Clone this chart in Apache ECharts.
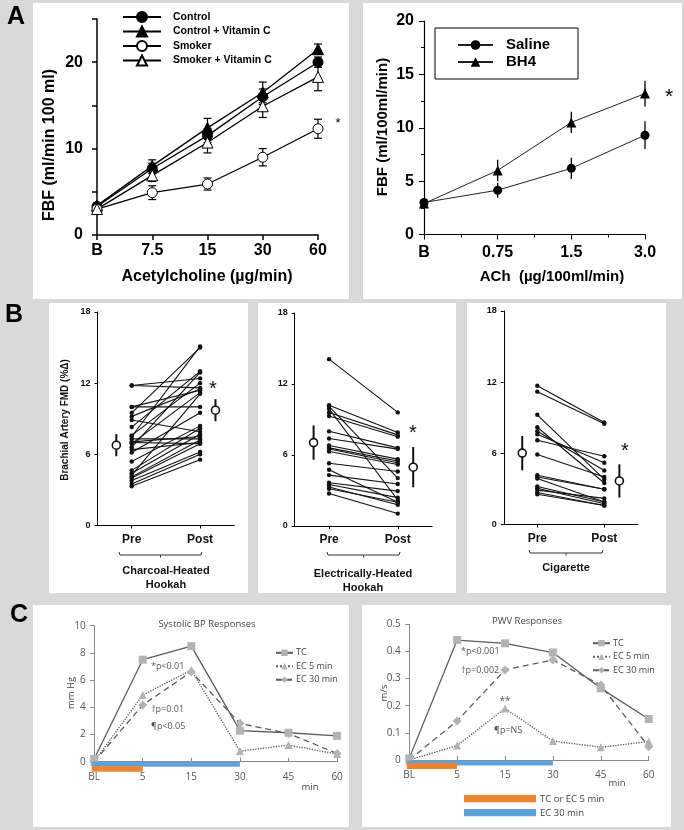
<!DOCTYPE html>
<html><head><meta charset="utf-8">
<script src="https://cdn.jsdelivr.net/npm/echarts@6/dist/echarts.min.js"></script>
<style>html,body{margin:0;padding:0;background:#d9d9d9}#c{width:684px;height:830px}</style>
</head><body><div id="c"></div>
<script>
// ---------- Panel A (left): FBF vs acetylcholine ----------
const aLeftCats = ['B', '7.5', '15', '30', '60'];
const control = [3.3, 7.7, 11.5, 16.0, 20.0];
const controlSem = [0.3, 0.6, 0.8, 0.9, 0.6];
const controlVitC = [3.4, 8.0, 12.4, 16.5, 21.5];
const controlVitCSem = [0.3, 0.7, 1.1, 1.2, 0.6];
const smoker = [3.0, 4.9, 5.9, 9.0, 12.3];
const smokerSem = [0.3, 0.8, 0.7, 1.0, 1.1];
const smokerVitC = [3.0, 6.9, 10.7, 14.9, 18.3];
const smokerVitCSem = [0.3, 0.7, 1.2, 1.3, 1.6];

// ---------- Panel A (right): FBF vs ACh ----------
const aRightCats = ['B', '0.75', '1.5', '3.0'];
const saline = [3.0, 4.15, 6.2, 9.3];
const salineSem = [0.1, 0.7, 1.0, 1.3];
const bh4 = [2.9, 6.0, 10.5, 13.2];
const bh4Sem = [0.1, 1.0, 1.0, 1.2];

// ---------- Panel B: brachial artery FMD, pre vs post ----------
const bCats = ['Pre', 'Post'];
const charcoalPre  = [11.8, 11.8, 10.0, 10.0, 9.5, 9.2, 8.9, 8.3, 7.6, 7.5, 7.3, 7.05, 6.9, 6.6, 6.4, 6.15, 5.4, 4.65, 4.4, 4.25, 4.1, 4.0, 3.8, 3.5, 3.3, 7.0];
const charcoalPost = [12.4, 11.6, 11.4, 10.0, 15.0, 11.5, 7.9, 13.0, 12.0, 15.1, 7.3, 7.5, 11.2, 12.9, 7.0, 9.5, 8.4, 8.2, 7.7, 11.1, 7.2, 6.9, 6.2, 6.0, 5.55, 6.9];
const charcoalMean = [6.77, 9.72];
const charcoalSd = [0.93, 0.93];

const electricPre  = [14.1, 10.2, 10.1, 9.9, 9.6, 9.3, 8.0, 7.4, 6.8, 6.6, 6.5, 6.3, 5.3, 4.75, 4.3, 3.65, 3.5, 3.3, 3.15, 2.75];
const electricPost = [9.6, 7.9, 4.05, 2.2, 7.7, 7.55, 6.6, 6.5, 5.65, 5.5, 5.35, 5.2, 4.6, 2.0, 3.55, 2.95, 2.4, 1.8, 2.0, 1.05];
const electricMean = [7.05, 4.97];
const electricSd = [1.45, 1.7];

const cigPre  = [11.7, 11.2, 9.25, 8.2, 7.87, 7.6, 7.1, 5.9, 4.15, 4.0, 3.87, 3.2, 3.05, 2.9, 2.7, 2.55];
const cigPost = [8.6, 8.5, 3.8, 3.5, 4.55, 5.2, 5.75, 4.0, 2.97, 2.97, 1.9, 1.9, 1.75, 2.2, 1.6, 1.6];
const cigMean = [6.02, 3.67];
const cigSd = [1.45, 1.4];

// ---------- Panel C: BP and PWV responses ----------
const cCats = ['BL', '5', '15', '30', '45', '60'];
const bpTC   = [0.2, 7.5, 8.5, 2.28, 2.13, 1.9];
const bpEC5  = [0.0, 4.9, 6.74, 0.78, 1.22, 0.56];
const bpEC30 = [0.0, 4.17, 6.6, 2.82, 2.08, 0.6];
const pwvTC   = [0.006, 0.442, 0.43, 0.396, 0.264, 0.151];
const pwvEC5  = [0.0, 0.053, 0.19, 0.07, 0.047, 0.068];
const pwvEC30 = [0.0, 0.144, 0.332, 0.369, 0.276, 0.049];
// exposure periods, as category index [start, end]
const exposureTC = [0, 1];   // BL -> 5 min
const exposureEC30 = [0, 3]; // BL -> 30 min

// ================= build =================
const FA = '"Liberation Sans", Arial, sans-serif';
const FC = '"Open Sans", "Noto Sans", sans-serif';
const BLACK = '#000';

function idx(arr) { return arr.map((v, i) => [i, v]); }

function errSeries(ax, xs, ys, errs, cap, lw) {
  return {
    type: 'custom', xAxisIndex: ax, yAxisIndex: ax, z: 1, silent: true,
    data: ys.map((y, i) => [xs[i], y, errs[i]]),
    renderItem(params, api) {
      const x = api.value(0), y = api.value(1), e = api.value(2);
      const t = api.coord([x, y + e]), b = api.coord([x, y - e]);
      const ch = [{ type: 'line', shape: { x1: t[0], y1: t[1], x2: b[0], y2: b[1] }, style: { stroke: BLACK, lineWidth: lw } }];
      if (cap) {
        ch.push({ type: 'line', shape: { x1: t[0] - cap, y1: t[1], x2: t[0] + cap, y2: t[1] }, style: { stroke: BLACK, lineWidth: lw } });
        ch.push({ type: 'line', shape: { x1: b[0] - cap, y1: b[1], x2: b[0] + cap, y2: b[1] }, style: { stroke: BLACK, lineWidth: lw } });
      }
      return { type: 'group', children: ch };
    }
  };
}

function pairSeries(ax, pre, post) {
  return {
    type: 'custom', xAxisIndex: ax, yAxisIndex: ax, silent: true, z: 3,
    data: pre.map((p, i) => [p, post[i]]),
    encode: { y: [0, 1] },
    renderItem(params, api) {
      const a = api.coord([1, api.value(0)]), b = api.coord([3, api.value(1)]);
      return { type: 'group', children: [
        { type: 'line', shape: { x1: a[0], y1: a[1], x2: b[0], y2: b[1] }, style: { stroke: '#111', lineWidth: 1.1 } },
        { type: 'circle', shape: { cx: a[0], cy: a[1], r: 2.2 }, style: { fill: '#111' } },
        { type: 'circle', shape: { cx: b[0], cy: b[1], r: 2.2 }, style: { fill: '#111' } }
      ] };
    }
  };
}

function meanSeries(ax, mean, sd) {
  const xs = [0.55, 3.45];
  return {
    type: 'custom', xAxisIndex: ax, yAxisIndex: ax, silent: true, z: 4,
    data: mean.map((m, i) => [xs[i], m, sd[i]]),
    renderItem(params, api) {
      const x = api.value(0), y = api.value(1), e = api.value(2);
      const t = api.coord([x, y + e]), b = api.coord([x, y - e]), c = api.coord([x, y]);
      return { type: 'group', children: [
        { type: 'line', shape: { x1: t[0], y1: t[1], x2: b[0], y2: b[1] }, style: { stroke: '#111', lineWidth: 2 } },
        { type: 'circle', shape: { cx: c[0], cy: c[1], r: 4 }, style: { fill: '#fff', stroke: '#111', lineWidth: 1.6 } }
      ] };
    }
  };
}

function barSeries(ax, range, color, y0, h) {
  return {
    type: 'custom', xAxisIndex: ax, yAxisIndex: ax, silent: true, z: 5,
    data: [[range[0], range[1]]],
    encode: { x: [0, 1] },
    renderItem(params, api) {
      const cs = params.coordSys;
      const e = api.coord([api.value(1), 0]);
      return { type: 'rect', shape: { x: cs.x, y: e[1] + y0, width: e[0] - cs.x, height: h }, style: { fill: color } };
    }
  };
}

const grids = [
  { left: 97, top: 19, width: 221, height: 216 },        // 0 A-left
  { left: 424, top: 21, width: 221, height: 213.5 },     // 1 A-right
  { left: 97.5, top: 312, width: 136.8, height: 213.5 }, // 2 B1
  { left: 294.7, top: 313, width: 137.4, height: 213 },  // 3 B2
  { left: 503.8, top: 311, width: 134, height: 213.5 },  // 4 B3
  { left: 91.7, top: 625.7, width: 245.4, height: 136 }, // 5 C1
  { left: 406.8, top: 624.3, width: 241.9, height: 135.7 } // 6 C2
];

const blackAxis = { lineStyle: { color: BLACK, width: 1.5 } };
const xAxes = [
  { gridIndex: 0, type: 'category', data: aLeftCats, boundaryGap: false,
    axisLine: blackAxis, axisTick: { length: 5, lineStyle: { color: BLACK, width: 1.5 } },
    axisLabel: { fontFamily: FA, fontWeight: 'bold', fontSize: 16, color: BLACK, margin: 8 } },
  { gridIndex: 1, type: 'value', min: 0, max: 3, interval: 1,
    axisLine: { lineStyle: { color: BLACK, width: 1.2 } }, axisTick: { length: 5, lineStyle: { color: BLACK } },
    minorTick: { show: true, splitNumber: 2, length: 3, lineStyle: { color: BLACK } },
    splitLine: { show: false }, minorSplitLine: { show: false },
    axisLabel: { fontFamily: FA, fontWeight: 'bold', fontSize: 16, color: BLACK, margin: 10, formatter: v => aRightCats[v] } }
];
[2, 3, 4].forEach(g => xAxes.push({
  gridIndex: g, type: 'value', min: 0, max: 4, splitLine: { show: false },
  axisLine: { lineStyle: { color: BLACK, width: 1 } },
  axisTick: { customValues: [1, 3], length: 3, lineStyle: { color: BLACK } },
  axisLabel: { customValues: [1, 3], formatter: v => bCats[v === 1 ? 0 : 1], fontFamily: FA, fontWeight: 'bold', fontSize: 12, color: '#111', margin: 8 }
}));
[5, 6].forEach(g => xAxes.push({
  gridIndex: g, type: 'value', min: -0.05, max: 5, splitLine: { show: false },
  axisLine: { lineStyle: { color: '#8a8a8a', width: 1 } },
  axisTick: { customValues: [0, 1, 2, 3, 4, 5], inside: true, length: 4, lineStyle: { color: '#8a8a8a' } },
  axisLabel: { customValues: [0, 1, 2, 3, 4, 5], formatter: v => cCats[Math.round(v)], fontFamily: FC, fontSize: 10, color: '#555', margin: 10 }
}));

const yAxes = [
  { gridIndex: 0, type: 'value', min: 0, max: 25, interval: 5, splitLine: { show: false },
    axisLine: { show: true, lineStyle: { color: BLACK, width: 1.5 } }, axisTick: { show: true, length: 5, lineStyle: { color: BLACK, width: 1.5 } },
    axisLabel: { fontFamily: FA, fontWeight: 'bold', fontSize: 16, color: BLACK, margin: 14, formatter: v => (v % 10 === 0 ? String(v) : '') } },
  { gridIndex: 1, type: 'value', min: 0, max: 20, interval: 5, splitLine: { show: false },
    axisLine: { show: true, lineStyle: { color: BLACK, width: 1.2 } }, axisTick: { show: true, length: 5, lineStyle: { color: BLACK } },
    minorTick: { show: true, splitNumber: 2, length: 3, lineStyle: { color: BLACK } }, minorSplitLine: { show: false },
    axisLabel: { fontFamily: FA, fontWeight: 'bold', fontSize: 16, color: BLACK, margin: 10 } }
];
[2, 3, 4].forEach(g => yAxes.push({
  gridIndex: g, type: 'value', min: 0, max: 18, interval: 6, splitLine: { show: false },
  axisLine: { show: true, lineStyle: { color: BLACK, width: 1 } }, axisTick: { show: true, length: 3, lineStyle: { color: BLACK } },
  axisLabel: { fontFamily: FA, fontWeight: 'bold', fontSize: 9, color: '#111', margin: 7 }
}));
yAxes.push({ gridIndex: 5, type: 'value', min: 0, max: 10, interval: 2, splitLine: { show: false },
  axisLine: { show: true, lineStyle: { color: '#8a8a8a' } }, axisTick: { show: true, length: 4, lineStyle: { color: '#8a8a8a' } },
  axisLabel: { fontFamily: FC, fontSize: 10, color: '#555', margin: 6 } });
yAxes.push({ gridIndex: 6, type: 'value', min: 0, max: 0.5, interval: 0.1, splitLine: { show: false },
  axisLine: { show: true, lineStyle: { color: '#8a8a8a' } }, axisTick: { show: true, length: 4, lineStyle: { color: '#8a8a8a' } },
  axisLabel: { fontFamily: FC, fontSize: 10, color: '#555', margin: 6, formatter: v => (v === 0 ? '0' : v.toFixed(1)) } });

function aLine(name, data, symbol, size, fill) {
  return { name, type: 'line', xAxisIndex: 0, yAxisIndex: 0, data, symbol, symbolSize: size, z: 3,
    lineStyle: { color: BLACK, width: 1.3 }, itemStyle: { color: fill, borderColor: BLACK, borderWidth: 1 } };
}
function arLine(name, data, symbol, size) {
  return { name, type: 'line', xAxisIndex: 1, yAxisIndex: 1, data: idx(data), symbol, symbolSize: size, z: 3,
    lineStyle: { color: '#222', width: 1 }, itemStyle: { color: BLACK } };
}
function cLine(ax, name, data, symbol, size, type) {
  return { name, type: 'line', xAxisIndex: ax, yAxisIndex: ax, data: idx(data), symbol, symbolSize: size, z: 3,
    lineStyle: { color: '#5c5c5c', width: 1.3, type }, itemStyle: { color: '#b3b3b3' } };
}

const xi5 = [0, 1, 2, 3, 4], xi4 = [0, 1, 2, 3];
const series = [
  errSeries(0, xi5, control, controlSem, 4, 1.2),
  errSeries(0, xi5, controlVitC, controlVitCSem, 4, 1.2),
  errSeries(0, xi5, smoker, smokerSem, 4, 1.2),
  errSeries(0, xi5, smokerVitC, smokerVitCSem, 4, 1.2),
  aLine('Control', control, 'circle', 10, BLACK),
  aLine('Control + Vitamin C', controlVitC, 'triangle', 11, BLACK),
  aLine('Smoker', smoker, 'circle', 10, '#fff'),
  aLine('Smoker + Vitamin C', smokerVitC, 'triangle', 11, '#fff'),
  errSeries(1, xi4, saline, salineSem, 0, 1.3),
  errSeries(1, xi4, bh4, bh4Sem, 0, 1.3),
  arLine('Saline', saline, 'circle', 9),
  arLine('BH4', bh4, 'triangle', 10),
  pairSeries(2, charcoalPre, charcoalPost), meanSeries(2, charcoalMean, charcoalSd),
  pairSeries(3, electricPre, electricPost), meanSeries(3, electricMean, electricSd),
  pairSeries(4, cigPre, cigPost), meanSeries(4, cigMean, cigSd),
  cLine(5, 'TC', bpTC, 'rect', 8, 'solid'),
  cLine(5, 'EC 5 min', bpEC5, 'triangle', 8, 'dotted'),
  cLine(5, 'EC 30 min', bpEC30, 'diamond', 9, [6, 4]),
  barSeries(5, exposureEC30, '#5ea3dc', 0, 5),
  barSeries(5, exposureTC, '#ee8432', 4.5, 5.5),
  cLine(6, 'TC', pwvTC, 'rect', 8, 'solid'),
  cLine(6, 'EC 5 min', pwvEC5, 'triangle', 8, 'dotted'),
  cLine(6, 'EC 30 min', pwvEC30, 'diamond', 9, [6, 4]),
  barSeries(6, exposureEC30, '#5ea3dc', 0.5, 5),
  barSeries(6, exposureTC, '#ee8432', 3, 6)
];

const legends = [
  { left: 122, top: 11, padding: 0, orient: 'vertical', itemWidth: 38, itemHeight: 12.5, itemGap: 2.5, selectedMode: false,
    data: ['Control', 'Control + Vitamin C', 'Smoker', 'Smoker + Vitamin C'],
    textStyle: { fontFamily: FA, fontWeight: 'bold', fontSize: 10.5, color: BLACK, padding: [0, 0, 0, 7] } },
  { left: 457, top: 37.5, padding: 0, orient: 'vertical', itemWidth: 35, itemHeight: 12, itemGap: 2, selectedMode: false,
    data: ['Saline', 'BH4'],
    textStyle: { fontFamily: FA, fontWeight: 'bold', fontSize: 15, color: BLACK, padding: [0, 0, 0, 8] } },
  { left: 275, top: 648.3, padding: 0, orient: 'vertical', itemWidth: 17, itemHeight: 8, itemGap: 4.5, selectedMode: false,
    data: ['TC', 'EC 5 min', 'EC 30 min'],
    textStyle: { fontFamily: FC, fontSize: 9, color: '#444', padding: [0, 0, 0, -2] } },
  { left: 592, top: 638.7, padding: 0, orient: 'vertical', itemWidth: 17, itemHeight: 8, itemGap: 4.5, selectedMode: false,
    data: ['TC', 'EC 5 min', 'EC 30 min'],
    textStyle: { fontFamily: FC, fontSize: 9, color: '#444', padding: [0, 0, 0, -2] } }
];

function panel(x, y, w, h) { return { type: 'rect', z: -10, shape: { x, y, width: w, height: h }, style: { fill: '#fff' } }; }
function txt(x, y, text, font, fill, align, rot) {
  return { type: 'text', z: 10, x, y, rotation: rot || 0,
    style: { text, font, fill: fill || BLACK, align: align || 'center', verticalAlign: 'middle' } };
}
function bracket(x1, x2, y) {
  const m = (x1 + x2) / 2;
  return { type: 'group', z: 10, children: [
    { type: 'polyline', shape: { points: [[x1, y - 3], [x1 + 1, y], [x2 - 1, y], [x2, y - 3]] }, style: { stroke: '#333', lineWidth: 1, fill: null } },
    { type: 'line', shape: { x1: m, y1: y, x2: m, y2: y + 2.5 }, style: { stroke: '#333', lineWidth: 1 } }
  ] };
}

const graphics = [
  panel(33, 3, 316, 296), panel(363, 3, 319, 296),
  panel(49, 303, 199, 290), panel(258, 303, 198, 290), panel(467, 303, 199, 290),
  panel(33, 605, 316, 222), panel(362, 605, 309, 222),
  txt(16, 17, 'A', 'bold 25px ' + FA), txt(14, 315, 'B', 'bold 25px ' + FA), txt(19, 615, 'C', 'bold 25px ' + FA),
  // A left
  txt(207, 277, 'Acetylcholine (\u00b5g/min)', 'bold 16px ' + FA),
  txt(50, 145, 'FBF (ml/min 100 ml)', 'bold 16px ' + FA, BLACK, 'center', Math.PI / 2),
  txt(338, 123, '*', '13px ' + FA),
  // A right
  { type: 'rect', z: 9, shape: { x: 435, y: 28, width: 143, height: 51 }, style: { fill: null, stroke: BLACK, lineWidth: 1 } },
  txt(552, 277, 'ACh  (\u00b5g/100ml/min)', 'bold 15px ' + FA),
  txt(383, 127, 'FBF (ml/100ml/min)', 'bold 15px ' + FA, BLACK, 'center', Math.PI / 2),
  txt(669, 97, '*', '21px ' + FA),
  // B
  txt(65, 420, 'Brachial Artery FMD (%\u0394)', 'bold 10px ' + FA, '#111', 'center', Math.PI / 2),
  bracket(119, 202, 555), bracket(327, 400, 555), bracket(529, 603, 553),
  txt(166, 571, 'Charcoal-Heated', 'bold 11px ' + FA, '#111'), txt(166, 585, 'Hookah', 'bold 11px ' + FA, '#111'),
  txt(363, 574, 'Electrically-Heated', 'bold 11px ' + FA, '#111'), txt(363, 588, 'Hookah', 'bold 11px ' + FA, '#111'),
  txt(566, 568, 'Cigarette', 'bold 11px ' + FA, '#111'),
  txt(213, 389, '*', '20px ' + FA, '#111'), txt(413, 433, '*', '20px ' + FA, '#111'), txt(625, 451, '*', '20px ' + FA, '#111'),
  // C left
  txt(207, 624, 'Systolic BP Responses', '9.5px ' + FC, '#444'),
  txt(71, 693, 'mm Hg', '9.5px ' + FC, '#444', 'center', Math.PI / 2),
  txt(310, 787, 'min', '9.5px ' + FC, '#444'),
  txt(151, 666, '*p<0.01', '9px ' + FC, '#555', 'left'),
  txt(151, 709, '\u2020p=0.01', '9px ' + FC, '#555', 'left'),
  txt(151, 726, '\u00b6p<0.05', '9px ' + FC, '#555', 'left'),
  // C right
  txt(527, 621, 'PWV Responses', '9.5px ' + FC, '#444'),
  txt(384, 693, 'm/s', '9.5px ' + FC, '#444', 'center', Math.PI / 2),
  txt(617, 783, 'min', '9.5px ' + FC, '#444'),
  txt(461, 651, '*p<0.001', '9px ' + FC, '#555', 'left'),
  txt(461, 670, '\u2020p=0.002', '9px ' + FC, '#555', 'left'),
  txt(505, 701, '**', '10px ' + FC, '#555'),
  txt(494, 730, '\u00b6p=NS', '9px ' + FC, '#555', 'left'),
  { type: 'rect', z: 10, shape: { x: 464, y: 795, width: 72, height: 7.3 }, style: { fill: '#ee8432' } },
  { type: 'rect', z: 10, shape: { x: 464, y: 809, width: 72, height: 7.3 }, style: { fill: '#5ea3dc' } },
  txt(540, 799, 'TC or EC 5 min', '9.5px ' + FC, '#444', 'left'),
  txt(540, 813, 'EC 30 min', '9.5px ' + FC, '#444', 'left')
];

const chart = echarts.init(document.getElementById('c'), null, { renderer: 'canvas' });
chart.setOption({
  backgroundColor: '#d9d9d9',
  animation: false,
  grid: grids,
  xAxis: xAxes,
  yAxis: yAxes,
  legend: legends,
  series,
  graphic: { elements: graphics }
});
</script></body></html>
